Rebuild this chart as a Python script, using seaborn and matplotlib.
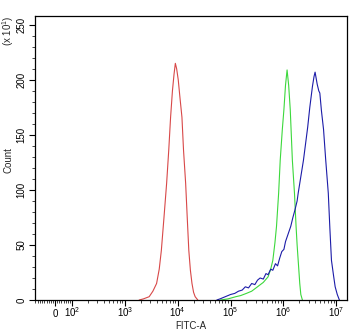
import numpy as np
import pandas as pd
import matplotlib
matplotlib.use("Agg")
import matplotlib.pyplot as plt
import seaborn as sns

# ---- data (log10 of FITC-A, count / 10) ----
red_log = [3.27, 3.35, 3.46, 3.53, 3.60, 3.65, 3.69, 3.74, 3.79, 3.83, 3.865, 3.90, 3.93, 3.955,
           3.98, 4.01, 4.04, 4.08, 4.11, 4.15, 4.18, 4.21, 4.24, 4.27, 4.30, 4.33, 4.38]
red_cnt = [0, 1, 3, 8, 15, 28, 45, 75, 106, 136, 166, 190, 205, 215,
           210, 200, 185, 166, 136, 106, 75, 45, 27, 15, 7, 3, 0]

green_log = [4.81, 4.95, 5.10, 5.19, 5.30, 5.40, 5.51, 5.62, 5.71, 5.76, 5.80, 5.84, 5.87, 5.91,
             5.94, 5.98, 6.01, 6.04, 6.07, 6.10, 6.13, 6.15, 6.17, 6.21, 6.24, 6.26, 6.28, 6.31,
             6.33, 6.36]
green_cnt = [0, 1, 3, 4, 6, 8, 12, 16, 21, 28, 36, 52, 67, 97,
             127, 155, 173, 195, 209, 195, 173, 150, 127, 97, 67, 50, 36, 15,
             5, 0]

blue_log = [4.74, 4.80, 4.90, 5.00, 5.08, 5.15, 5.22, 5.28, 5.34, 5.40, 5.46, 5.51, 5.56, 5.62,
            5.67, 5.71, 5.76, 5.80, 5.85, 5.89, 5.93, 5.97, 6.01, 6.04, 6.09, 6.14, 6.18, 6.22,
            6.26, 6.28, 6.33, 6.38, 6.42, 6.46, 6.50, 6.55, 6.58, 6.60, 6.64, 6.67, 6.69, 6.72,
            6.76, 6.80, 6.85, 6.88, 6.91, 6.95, 6.98, 7.02, 7.06]
blue_cnt = [0, 1, 3, 5, 6, 8, 9, 12, 11, 15, 14, 18, 20, 19,
            24, 23, 28, 27, 33, 31, 38, 44, 46, 53, 60, 67, 75, 82,
            90, 97, 112, 127, 142, 157, 175, 194, 203, 207, 196, 190, 188, 172,
            155, 128, 97, 65, 36, 22, 12, 5, 0]

x_tick_vals = [0, 1e2, 1e3, 1e4, 1e5, 1e6, 1e7]
x_tick_labels = ["0", "$10^{2}$", "$10^{3}$", "$10^{4}$", "$10^{5}$", "$10^{6}$", "$10^{7}$"]
y_tick_vals = [0, 50, 100, 150, 200, 250]

sns.set_style("ticks")
plt.rcParams['font.family'] = ['Liberation Sans', 'DejaVu Sans']
plt.rcParams['mathtext.default'] = 'regular'

frames = []
for name, lg, ct in [("red", red_log, red_cnt), ("green", green_log, green_cnt), ("blue", blue_log, blue_cnt)]:
    frames.append(pd.DataFrame({"x": 10 ** np.array(lg), "count": ct, "series": name}))
df = pd.concat(frames, ignore_index=True)

fig = plt.figure(figsize=(3.5, 3.33), dpi=100)
ax = fig.add_axes([35 / 350, 1 - 300 / 333, 312 / 350, 284 / 333])

palette = {"red": "#d84848", "green": "#3cd83c", "blue": "#1c1ca8"}
sns.lineplot(data=df, x="x", y="count", hue="series", palette=palette, sort=False,
             estimator=None, units="series", linewidth=0.8, legend=False, ax=ax)

ax.set_xscale("symlog", linthresh=100, linscale=0.29)
ax.set_xlim(-114, 1.6e7)
ax.set_ylim(0, 258)

ax.set_xticks(x_tick_vals)
ax.set_xticklabels(x_tick_labels, fontsize=7, va="baseline")
minor = [m for m in np.arange(-112.5, 100, 12.5) if m != 0]
for k in range(2, 7):
    minor += [m * 10 ** k for m in range(2, 10)]
ax.set_xticks(minor, minor=True)

ax.set_yticks(y_tick_vals)
ax.set_yticklabels([str(v) for v in y_tick_vals], fontsize=7, rotation=90, va="center")
ax.set_yticks(np.arange(0, 258, 10), minor=True)

ax.tick_params(axis="both", which="major", length=4, width=0.8, direction="out", pad=2, colors="black")
ax.tick_params(axis="x", which="major", pad=8.5)
ax.tick_params(axis="both", which="minor", length=2.5, width=0.6, direction="out")

for s in ax.spines.values():
    s.set_visible(True)
    s.set_linewidth(0.9)
    s.set_color("black")

ax.set_xlabel("FITC-A", fontsize=7, labelpad=1)
ax.set_ylabel("")
fig.text(8 / 350, 1 - 160 / 333, "Count", rotation=90, fontsize=7, ha="center", va="center")
fig.text(8 / 350, 1 - 31 / 333, "(x 10$^{1}$)", rotation=90, fontsize=7, ha="center", va="center")

fig.savefig("out.png", dpi=100)
